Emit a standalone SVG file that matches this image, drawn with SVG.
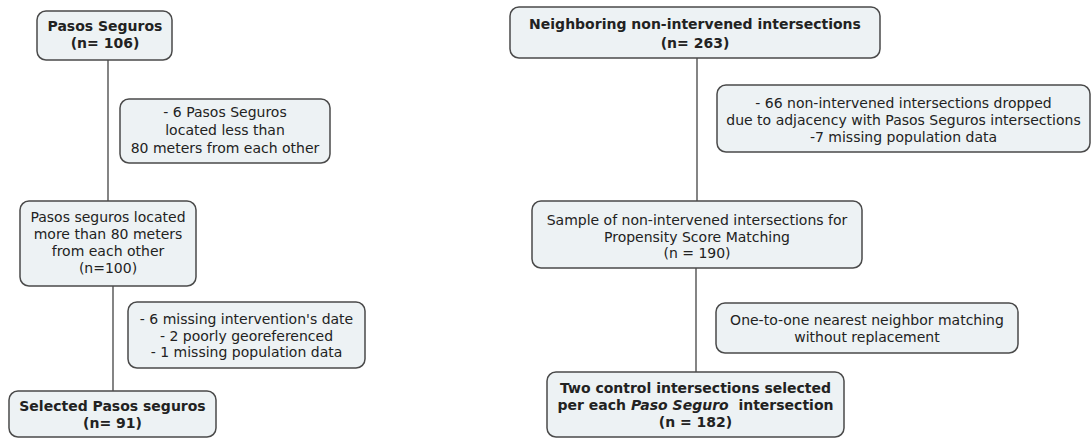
<svg xmlns="http://www.w3.org/2000/svg" width="1092" height="438" viewBox="0 0 1092 438">
<style>
.box{fill:#edf2f4;stroke:#4a4a4a;stroke-width:1.5}
.t{font-family:"DejaVu Sans",Verdana,sans-serif;font-size:14px;fill:#222;text-anchor:middle}
.b{font-weight:bold}
.c{stroke:#333;stroke-width:1.2;fill:none}
</style>
<rect width="1092" height="438" fill="#fff"/>
<g id="connectors">
<line class="c" x1="108" y1="60" x2="108" y2="201"/>
<line class="c" x1="113" y1="286" x2="113" y2="391"/>
<line class="c" x1="697" y1="58" x2="697" y2="201"/>
<line class="c" x1="696" y1="268" x2="696" y2="372"/>
</g>
<g id="n1">
<rect class="box" x="37" y="11" width="135" height="49" rx="9"/>
<text class="t b" x="105" y="31">Pasos Seguros</text>
<text class="t b" x="105" y="48">(n= 106)</text>
</g>
<g id="n2">
<rect class="box" x="120" y="99" width="210" height="64" rx="9"/>
<text class="t" x="225" y="117">- 6 Pasos Seguros</text>
<text class="t" x="225" y="135">located less than</text>
<text class="t" x="225" y="153">80 meters from each other</text>
</g>
<g id="n3">
<rect class="box" x="20" y="201" width="176" height="85" rx="9"/>
<text class="t" x="108" y="222">Pasos seguros located</text>
<text class="t" x="108" y="239">more than 80 meters</text>
<text class="t" x="108" y="256">from each other</text>
<text class="t" x="108" y="273">(n=100)</text>
</g>
<g id="n4">
<rect class="box" x="128" y="302" width="237" height="66" rx="9"/>
<text class="t" x="246.5" y="324">- 6 missing intervention's date</text>
<text class="t" x="246.5" y="341">- 2 poorly georeferenced</text>
<text class="t" x="246.5" y="357">- 1 missing population data</text>
</g>
<g id="n5">
<rect class="box" x="9" y="391" width="207" height="46" rx="9"/>
<text class="t b" x="112.5" y="411">Selected Pasos seguros</text>
<text class="t b" x="112.5" y="428">(n= 91)</text>
</g>
<g id="n6">
<rect class="box" x="510" y="7" width="370" height="51" rx="9"/>
<text class="t b" x="695" y="29">Neighboring non-intervened intersections</text>
<text class="t b" x="695" y="48">(n= 263)</text>
</g>
<g id="n7">
<rect class="box" x="717" y="85" width="373" height="67" rx="9"/>
<text class="t" x="903.5" y="108">- 66 non-intervened intersections dropped</text>
<text class="t" x="903.5" y="125">due to adjacency with Pasos Seguros intersections</text>
<text class="t" x="903.5" y="142">-7 missing population data</text>
</g>
<g id="n8">
<rect class="box" x="532" y="201" width="330" height="67" rx="9"/>
<text class="t" x="697" y="225">Sample of non-intervened intersections for</text>
<text class="t" x="697" y="242">Propensity Score Matching</text>
<text class="t" x="697" y="258">(n = 190)</text>
</g>
<g id="n9">
<rect class="box" x="716" y="303" width="302" height="50" rx="9"/>
<text class="t" x="867" y="325">One-to-one nearest neighbor matching</text>
<text class="t" x="867" y="342">without replacement</text>
</g>
<g id="n10">
<rect class="box" x="547" y="372" width="297" height="65" rx="9"/>
<text class="t b" x="695.5" y="393">Two control intersections selected</text>
<text class="t b" x="695.5" y="410" xml:space="preserve">per each <tspan font-style="italic">Paso Seguro</tspan>  intersection</text>
<text class="t b" x="695.5" y="427">(n = 182)</text>
</g>
</svg>
